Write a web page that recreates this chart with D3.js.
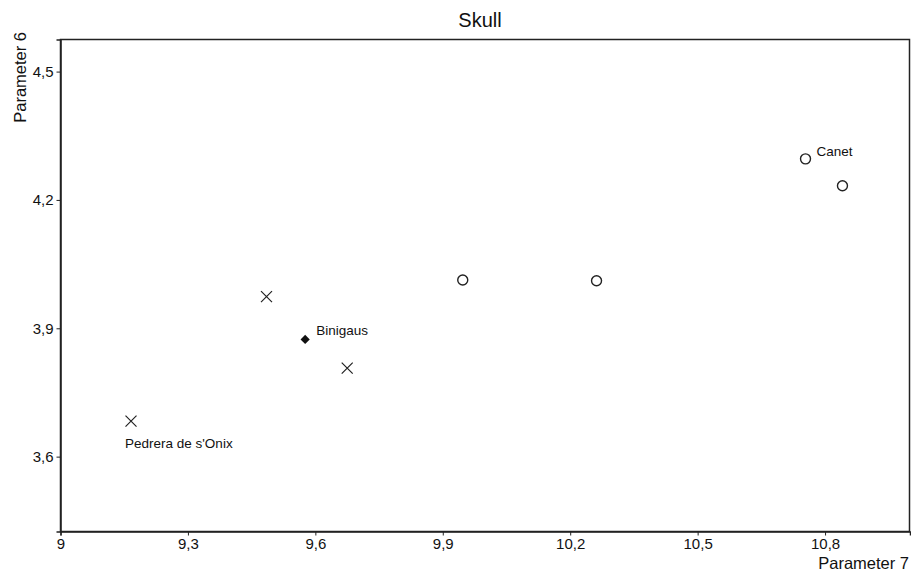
<!DOCTYPE html>
<html><head><meta charset="utf-8">
<script src="https://cdn.jsdelivr.net/npm/d3@7"></script>
<style>body{margin:0;background:#fff}svg{display:block}text{font-family:"Liberation Sans",Arial,sans-serif;fill:#111}</style>
</head><body><svg id="c" width="911" height="575"></svg>
<script>
const title = "Skull";
const xLabel = "Parameter 7";
const yLabel = "Parameter 6";
const xTicks = [9, 9.3, 9.6, 9.9, 10.2, 10.5, 10.8];
const yTicks = [3.6, 3.9, 4.2, 4.5];
const groups = ["cross","cross","cross","diamond","circle","circle","circle","circle"];
const xValues = [9.166, 9.485, 9.675, 9.576, 9.947, 10.262, 10.754, 10.841];
const yValues = [3.683, 3.974, 3.807, 3.874, 4.013, 4.011, 4.296, 4.233];
const pointLabels = ["Pedrera de s'Onix", "", "", "Binigaus", "", "", "Canet", ""];

const svg = d3.select("#c");
const x = d3.scaleLinear().domain([9, 11]).range([60.5, 910]);
const y = d3.scaleLinear().domain([3.425, 4.575]).range([531.5, 39.5]);
const fmt = d => String(d).replace(".", ",");

// frame
svg.append("rect").attr("x", 60.5).attr("y", 39.5).attr("width", 849).attr("height", 492)
  .attr("fill", "none").attr("stroke", "#222").attr("stroke-width", 1.5);

const xa = svg.append("g").attr("transform", "translate(0,531.5)")
  .call(d3.axisBottom(x).tickValues(xTicks).tickFormat(fmt).tickSize(4).tickPadding(3));
const ya = svg.append("g").attr("transform", "translate(60.5,0)")
  .call(d3.axisLeft(y).tickValues(yTicks).tickFormat(fmt).tickSize(4).tickPadding(3));
[xa, ya].forEach(a => {
  a.select(".domain").attr("stroke", "#222").attr("stroke-width", 1.5);
  a.selectAll(".tick line").attr("stroke", "#222").attr("stroke-width", 1);
  a.selectAll(".tick text").attr("font-size", 15).attr("fill", "#111")
    .style("font-family", '"Liberation Sans",Arial,sans-serif');
});

svg.append("text").attr("x", 480).attr("y", 27).attr("text-anchor", "middle")
  .attr("font-size", 20).text(title);
svg.append("text").attr("x", 909).attr("y", 569).attr("text-anchor", "end")
  .attr("font-size", 16.5).text(xLabel);
svg.append("text").attr("transform", "translate(26,32) rotate(-90)").attr("text-anchor", "end")
  .attr("font-size", 16.5).text(yLabel);

const pts = xValues.map((v, i) => ({x: v, y: yValues[i], g: groups[i], label: pointLabels[i]}));
const g = svg.append("g");
pts.forEach(p => {
  const cx = x(p.x), cy = y(p.y);
  if (p.g === "circle") {
    g.append("circle").attr("cx", cx).attr("cy", cy).attr("r", 5)
      .attr("fill", "#fff").attr("stroke", "#222").attr("stroke-width", 1.4);
  } else if (p.g === "cross") {
    const s = 5.5;
    g.append("path").attr("d", `M${cx-s},${cy-s}L${cx+s},${cy+s}M${cx-s},${cy+s}L${cx+s},${cy-s}`)
      .attr("stroke", "#222").attr("stroke-width", 1.2).attr("fill", "none");
  } else {
    const s = 4.6;
    g.append("path").attr("d", `M${cx},${cy-s}L${cx+s},${cy}L${cx},${cy+s}L${cx-s},${cy}Z`)
      .attr("fill", "#111");
  }
});
const labelOffsets = {"cross": [-6, 27], "diamond": [11, -4], "circle": [11, -3]};
pts.filter(p => p.label).forEach(p => {
  const o = labelOffsets[p.g];
  g.append("text").attr("x", x(p.x) + o[0]).attr("y", y(p.y) + o[1])
    .attr("font-size", 13.5).text(p.label);
});
</script></body></html>
